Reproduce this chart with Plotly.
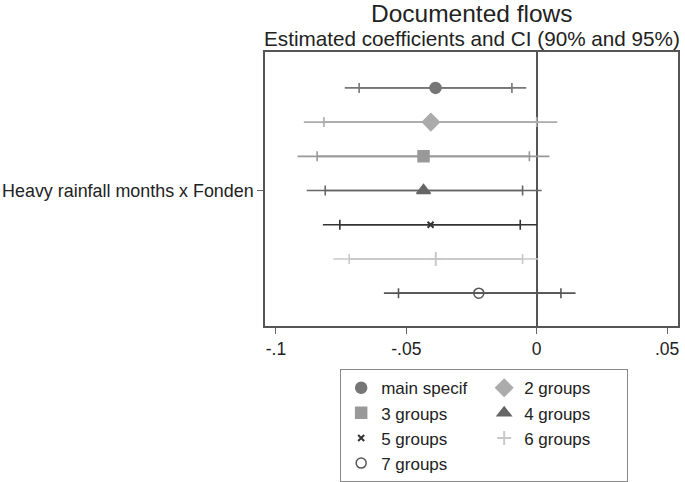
import plotly.graph_objects as go

# coefficient estimates and confidence intervals
models = ["main specif", "2 groups", "3 groups", "4 groups", "5 groups", "6 groups", "7 groups"]
coef = [-0.0388, -0.0406, -0.0434, -0.0434, -0.0407, -0.0387, -0.0222]
lo95 = [-0.0736, -0.0893, -0.0917, -0.0882, -0.0820, -0.0780, -0.0586]
hi95 = [-0.0040, 0.0079, 0.0049, 0.0019, 0.0001, 0.0006, 0.0149]
lo90 = [-0.0681, -0.0816, -0.0842, -0.0811, -0.0755, -0.0719, -0.0530]
hi90 = [-0.0095, 0.0000, -0.0028, -0.0054, -0.0063, -0.0054, 0.0093]

colors = ["#767676", "#ababab", "#999999", "#666666", "#333333", "#c8c8c8", "#555555"]
symbols = ["circle", "diamond", "square", "triangle-up", "x-thin", "cross-thin", "circle-open"]
sizes = [11, 13, 11, 12, 6, 10, 10]

font = "Liberation Sans, Arial, sans-serif"

fig = go.Figure()
n = len(models)
for i, name in enumerate(models):
    y = (n - 1) / 2 - i
    # 95% interval, no caps
    fig.add_trace(go.Scatter(
        x=[coef[i]], y=[y], mode="markers", marker=dict(size=1, opacity=0),
        error_x=dict(type="data", symmetric=False,
                     array=[hi95[i] - coef[i]], arrayminus=[coef[i] - lo95[i]],
                     color=colors[i], thickness=1.6, width=0),
        showlegend=False, hoverinfo="skip"))
    # 90% interval with caps and the point estimate
    fig.add_trace(go.Scatter(
        x=[coef[i]], y=[y], mode="markers", name=name,
        marker=dict(symbol=symbols[i], size=sizes[i], color=colors[i],
                    line=dict(color=colors[i], width=2 if i in (4, 5) else 1.5)),
        error_x=dict(type="data", symmetric=False,
                     array=[hi90[i] - coef[i]], arrayminus=[coef[i] - lo90[i]],
                     color=colors[i], thickness=1.6, width=5)))

fig.update_layout(
    width=685, height=482,
    margin=dict(l=265, r=7, t=52, b=156),
    paper_bgcolor="white", plot_bgcolor="white",
    font=dict(family=font, size=17.5, color="#222222"),
    showlegend=True,
    legend=dict(orientation="h", x=0.182, xanchor="left",
                yref="container", y=0.234, yanchor="top",
                entrywidth=98, bordercolor="#888888", borderwidth=1,
                font=dict(size=17), itemsizing="trace", tracegroupgap=0),
    annotations=[
        dict(text="Documented flows", x=0.5, y=1.142, xref="paper", yref="paper",
             xanchor="center", yanchor="middle", showarrow=False, font=dict(size=24.5)),
        dict(text="Estimated coefficients and CI (90% and 95%)", x=0.5, y=1.051,
             xref="paper", yref="paper", xanchor="center", yanchor="middle",
             showarrow=False, font=dict(size=20.7)),
    ],
)

fig.update_xaxes(
    range=[-0.1042, 0.0542], tickvals=[-0.1, -0.05, 0, 0.05],
    ticktext=["-.1", "-.05", "0", ".05"], ticks="outside", ticklen=6,
    tickcolor="#666666", tickwidth=1.2, showgrid=False, automargin=False,
    zeroline=True, zerolinecolor="#555555", zerolinewidth=1.5,
    showline=True, linecolor="#555555", linewidth=1.5, mirror=True,
    tickfont=dict(size=17.5))
fig.update_yaxes(
    range=[-3.96, 4.05], tickvals=[0], ticktext=["Heavy rainfall months x Fonden"],
    ticks="outside", ticklen=6, tickcolor="#666666", tickwidth=1.2,
    showgrid=False, zeroline=False, automargin=False,
    showline=True, linecolor="#555555", linewidth=1.5, mirror=True,
    tickfont=dict(size=17.9))

# drop the default 8px page margin so the figure sits at the window corner
fig.write_html("out.html", config={"displayModeBar": False},
               post_script="document.body.style.margin='0px';")
